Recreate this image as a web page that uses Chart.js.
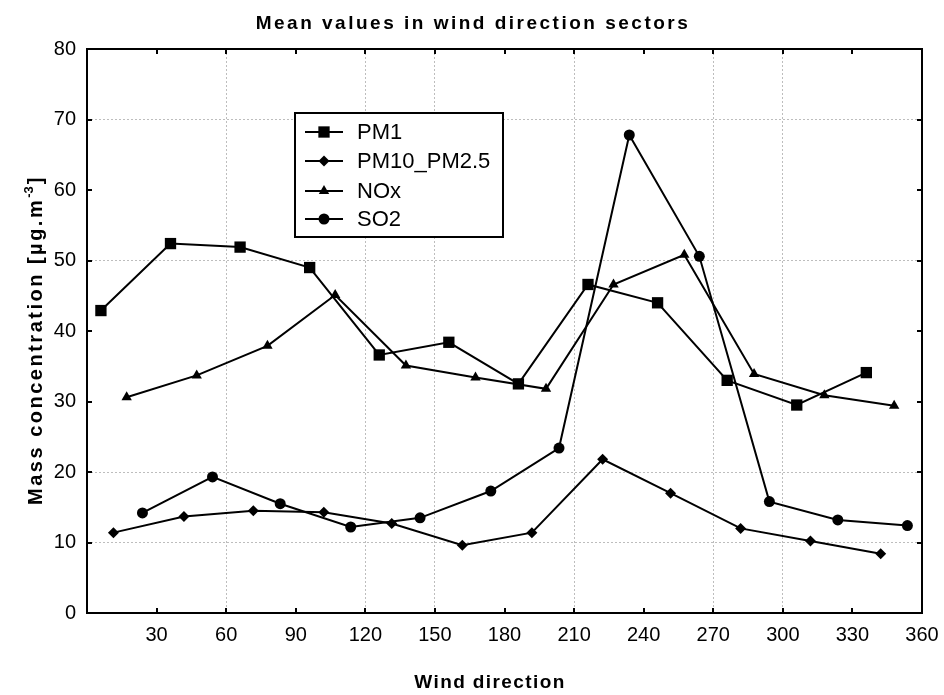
<!DOCTYPE html>
<html>
<head>
<meta charset="utf-8">
<script src="https://cdn.jsdelivr.net/npm/chart.js@4.4.1/dist/chart.umd.min.js"></script>
<style>
  html, body { margin: 0; padding: 0; background: #fff; }
  #wrap { width: 944px; height: 695px; }
</style>
</head>
<body>
<div id="wrap"><canvas id="chart"></canvas></div>
<script>
const FONT = "'Liberation Sans', Arial, sans-serif";

// data (wind direction in degrees, concentration in ug/m3)
const seriesNames = ['PM1', 'PM10_PM2.5', 'NOx', 'SO2'];
const pm1X = [6, 36, 66, 96, 126, 156, 186, 216, 246, 276, 306, 336];
const pm1Y = [42.9, 52.4, 51.9, 49.0, 36.6, 38.4, 32.5, 46.6, 44.0, 33.0, 29.5, 34.1];
const pmCoarseX = [11.4, 41.8, 71.7, 102.1, 131.4, 161.8, 191.8, 222.3, 251.6, 281.8, 311.9, 342.2];
const pmCoarseY = [11.4, 13.7, 14.5, 14.3, 12.7, 9.6, 11.4, 21.8, 17.0, 12.0, 10.2, 8.4];
const noxX = [17.1, 47.3, 77.8, 107, 137.5, 167.5, 197.9, 227, 257.5, 287.6, 317.9, 348];
const noxY = [30.6, 33.7, 37.9, 45.1, 35.1, 33.4, 31.8, 46.6, 50.8, 33.9, 30.9, 29.4];
const so2X = [23.9, 54.1, 83.3, 113.7, 143.6, 174.1, 203.5, 233.8, 264, 294.2, 323.7, 353.7];
const so2Y = [14.2, 19.3, 15.5, 12.2, 13.5, 17.3, 23.4, 67.8, 50.6, 15.8, 13.2, 12.4];

const xMin = 0, xMax = 360, xStep = 30;
const yMin = 0, yMax = 80, yStep = 10;

// only some gridlines survive in the original image
const gridX = [60, 120, 150, 210, 270, 300];
const gridY = [10, 20, 50, 70];

const toPts = (xs, ys) => xs.map((x, i) => ({ x: x, y: ys[i] }));

function mkSet(label, xs, ys, style, r) {
    return {
        label: label,
        data: toPts(xs, ys),
        borderColor: '#000',
        backgroundColor: '#000',
        borderWidth: 2,
        pointStyle: style,
        pointRadius: r,
        pointBorderWidth: 0,
        pointBackgroundColor: '#000',
        tension: 0
    };
}

// frame + inward ticks on all four sides
const framePlugin = {
    id: 'frame',
    afterDraw(chart) {
        const { ctx, chartArea: a, scales: { x, y } } = chart;
        ctx.save();
        ctx.strokeStyle = '#000';
        ctx.lineWidth = 2;
        ctx.strokeRect(a.left, a.top, a.right - a.left, a.bottom - a.top);
        ctx.beginPath();
        x.ticks.forEach(t => {
            const px = Math.round(x.getPixelForValue(t.value));
            ctx.moveTo(px, a.bottom); ctx.lineTo(px, a.bottom - 5);
            ctx.moveTo(px, a.top); ctx.lineTo(px, a.top + 5);
        });
        y.ticks.forEach(t => {
            const py = Math.round(y.getPixelForValue(t.value));
            ctx.moveTo(a.left, py); ctx.lineTo(a.left + 5, py);
            ctx.moveTo(a.right, py); ctx.lineTo(a.right - 5, py);
        });
        ctx.stroke();
        ctx.restore();
    }
};

// legend box inside the plot
const legendPlugin = {
    id: 'boxLegend',
    afterDatasetsDraw(chart) {
        const ctx = chart.ctx;
        const bx = 295, by = 113, bw = 208, bh = 124;
        ctx.save();
        ctx.fillStyle = '#fff';
        ctx.fillRect(bx, by, bw, bh);
        ctx.strokeStyle = '#000';
        ctx.lineWidth = 2;
        ctx.strokeRect(bx, by, bw, bh);
        const rows = [132, 161, 191, 219];
        chart.data.datasets.forEach((ds, i) => {
            const yy = rows[i];
            ctx.beginPath();
            ctx.lineWidth = 2;
            ctx.strokeStyle = '#000';
            ctx.moveTo(305, yy); ctx.lineTo(343, yy);
            ctx.stroke();
            ctx.fillStyle = '#000';
            Chart.helpers.drawPoint(ctx, { pointStyle: ds.pointStyle, radius: ds.pointRadius, rotation: 0, borderWidth: 0 }, 324, yy);
            ctx.fillStyle = '#000';
            ctx.font = '22px ' + FONT;
            ctx.textBaseline = 'middle';
            ctx.textAlign = 'left';
            ctx.fillText(ds.label, 357, yy + 1);
        });
        ctx.restore();
    }
};

// chart title and axis titles, letter-spaced like the original
const titlePlugin = {
    id: 'titles',
    afterDraw(chart) {
        const ctx = chart.ctx;
        ctx.save();
        ctx.fillStyle = '#000';
        ctx.textBaseline = 'alphabetic';
        ctx.textAlign = 'center';

        ctx.font = 'bold 19px ' + FONT;
        ctx.letterSpacing = '2.5px';
        ctx.fillText('Mean values in wind direction sectors', 473, 29);

        ctx.font = 'bold 19px ' + FONT;
        ctx.letterSpacing = '1.4px';
        ctx.fillText('Wind direction', 490, 688);

        // y title with superscript
        ctx.translate(42, 340);
        ctx.rotate(-Math.PI / 2);
        ctx.textAlign = 'left';
        const main = 'Mass concentration [\u00b5g.m', sup = '-3', end = ']';
        const big = 'bold 20px ' + FONT, small = 'bold 13px ' + FONT, gap = '2.5px';
        ctx.font = big;
        ctx.letterSpacing = gap;
        const w1 = ctx.measureText(main).width;
        const w3 = ctx.measureText(end).width;
        ctx.font = small;
        ctx.letterSpacing = '0px';
        const w2 = ctx.measureText(sup).width + 2;
        let x0 = -(w1 + w2 + w3) / 2;
        ctx.font = big;
        ctx.letterSpacing = gap;
        ctx.fillText(main, x0, 0);
        ctx.font = small;
        ctx.letterSpacing = '0px';
        ctx.fillText(sup, x0 + w1, -9);
        ctx.font = big;
        ctx.letterSpacing = gap;
        ctx.fillText(end, x0 + w1 + w2, 0);
        ctx.restore();
    }
};

new Chart(document.getElementById('chart'), {
    type: 'line',
    data: {
        datasets: [
            mkSet(seriesNames[0], pm1X, pm1Y, 'rect', 8),
            mkSet(seriesNames[1], pmCoarseX, pmCoarseY, 'rectRot', 5.5),
            mkSet(seriesNames[2], noxX, noxY, 'triangle', 6),
            mkSet(seriesNames[3], so2X, so2Y, 'circle', 5.5)
        ]
    },
    options: {
        responsive: true, maintainAspectRatio: false, animation: false,
        layout: { padding: { top: 49, right: 22, left: 0, bottom: 0 } },
        plugins: { legend: { display: false }, title: { display: false }, tooltip: { enabled: false } },
        scales: {
            x: {
                type: 'linear', min: xMin, max: xMax,
                afterFit: s => { s.height = 82; s.paddingLeft = 0; s.paddingRight = 0; },
                border: { display: false, dash: [2, 2] },
                grid: {
                    drawTicks: false,
                    color: c => gridX.includes(c.tick.value) ? '#bdbdbd' : 'rgba(0,0,0,0)',
                    lineWidth: 1
                },
                ticks: {
                    stepSize: xStep, padding: 10, color: '#000',
                    font: { family: FONT, size: 20 },
                    maxRotation: 0,
                    callback: v => v === 0 ? '' : v
                }
            },
            y: {
                min: yMin, max: yMax,
                afterFit: s => { s.width = 87; s.paddingTop = 0; s.paddingBottom = 0; },
                border: { display: false, dash: [2, 2] },
                grid: {
                    drawTicks: false,
                    color: c => gridY.includes(c.tick.value) ? '#bdbdbd' : 'rgba(0,0,0,0)',
                    lineWidth: 1
                },
                ticks: {
                    stepSize: yStep, padding: 11, color: '#000',
                    font: { family: FONT, size: 20 }
                }
            }
        }
    },
    plugins: [framePlugin, legendPlugin, titlePlugin]
});
</script>
</body>
</html>
